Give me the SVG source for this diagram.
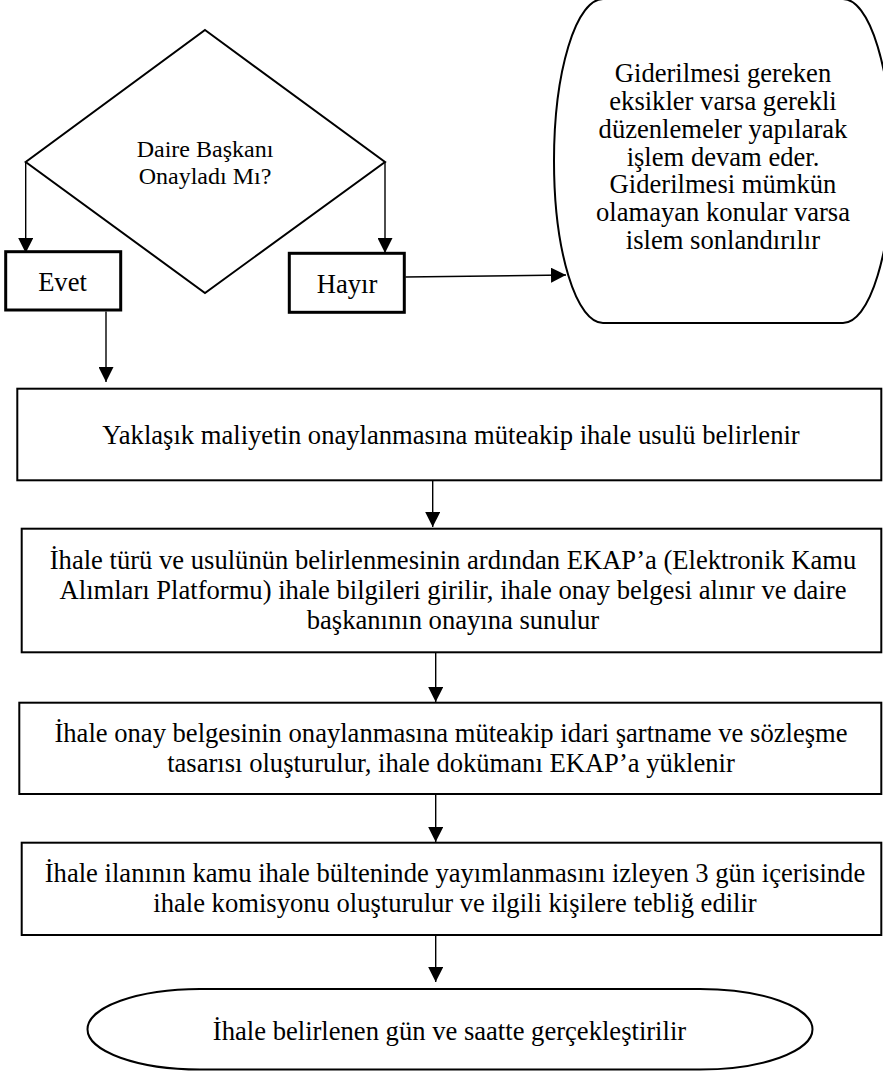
<svg xmlns="http://www.w3.org/2000/svg" width="883" height="1071" viewBox="0 0 883 1071">
<style>
text{font-family:"Liberation Serif","Times New Roman",serif;font-size:26.6px;fill:#000;text-anchor:middle}
.dt{font-size:24px}
.shape{fill:#fff;stroke:#000;stroke-width:2}
.small{fill:#fff;stroke:#000;stroke-width:3}
.conn{stroke:#000;stroke-width:1.4;fill:none;marker-end:url(#ah)}
</style>
<defs>
<marker id="ah" markerUnits="userSpaceOnUse" markerWidth="15" markerHeight="15" refX="15" refY="7.5" orient="auto">
<path d="M0,0 L15,7.5 L0,15 Z" fill="#000"/>
</marker>
</defs>
<rect width="883" height="1071" fill="#fff"/>
<g id="decision">
<polygon class="shape" points="205,30 385,162 205,293 25.7,162"/>
<text class="dt" x="205" y="157">Daire Başkanı</text>
<text class="dt" x="205" y="183.5">Onayladı Mı?</text>
</g>
<g id="evet">
<rect class="small" x="5.7" y="251.7" width="115" height="58.3"/>
<text x="62.5" y="291">Evet</text>
</g>
<g id="hayir">
<rect class="small" x="289.3" y="253.3" width="115" height="59"/>
<text x="347" y="292.7">Hayır</text>
</g>
<g id="note">
<path class="shape" d="M603,-1 L843,-1 A49,162 0 0 1 843,323 L603,323 A49,162 0 0 1 603,-1 Z"/>
<text x="723" y="82">Giderilmesi gereken</text>
<text x="723" y="110">eksikler varsa gerekli</text>
<text x="723" y="138">düzenlemeler yapılarak</text>
<text x="723" y="165.5">işlem devam eder.</text>
<text x="723" y="193">Giderilmesi mümkün</text>
<text x="723" y="221">olamayan konular varsa</text>
<text x="723" y="248.5">islem sonlandırılır</text>
</g>
<g id="step1">
<rect class="shape" x="17.3" y="388.7" width="864" height="91.6"/>
<text x="451" y="444">Yaklaşık maliyetin onaylanmasına müteakip ihale usulü belirlenir</text>
</g>
<g id="step2">
<rect class="shape" x="21.7" y="528.7" width="859.6" height="123.6"/>
<text x="453" y="569.3">İhale türü ve usulünün belirlenmesinin ardından EKAP’a (Elektronik Kamu</text>
<text x="453" y="599.3">Alımları Platformu) ihale bilgileri girilir, ihale onay belgesi alınır ve daire</text>
<text x="453" y="629.3">başkanının onayına sunulur</text>
</g>
<g id="step3">
<rect class="shape" x="19.3" y="702.7" width="862" height="91.3"/>
<text x="451" y="741.7">İhale onay belgesinin onaylanmasına müteakip idari şartname ve sözleşme</text>
<text x="451" y="771.7">tasarısı oluşturulur, ihale dokümanı EKAP’a yüklenir</text>
</g>
<g id="step4">
<rect class="shape" x="21.7" y="842.7" width="859.6" height="92.3"/>
<text x="455" y="881.7">İhale ilanının kamu ihale bülteninde yayımlanmasını izleyen 3 gün içerisinde</text>
<text x="455" y="911.7">ihale komisyonu oluşturulur ve ilgili kişilere tebliğ edilir</text>
</g>
<g id="end">
<path class="shape" d="M200,989 L700,989 A112.5,40.25 0 0 1 812.5,1029.25 A112.5,40.25 0 0 1 700,1069.5 L200,1069.5 A112.5,40.25 0 0 1 87.5,1029.25 A112.5,40.25 0 0 1 200,989 Z"/>
<text x="449.5" y="1040">İhale belirlenen gün ve saatte gerçekleştirilir</text>
</g>
<g id="connectors">
<line class="conn" x1="25.7" y1="162" x2="25.7" y2="253"/>
<line class="conn" x1="385" y1="162" x2="385" y2="253"/>
<line class="conn" x1="405.5" y1="277" x2="566" y2="275"/>
<line class="conn" x1="106" y1="311.5" x2="106" y2="382"/>
<line class="conn" x1="432.7" y1="481" x2="432.7" y2="527"/>
<line class="conn" x1="435.7" y1="653" x2="435.7" y2="702"/>
<line class="conn" x1="435.7" y1="795" x2="435.7" y2="842"/>
<line class="conn" x1="435.7" y1="936" x2="435.7" y2="982"/>
</g>
</svg>
